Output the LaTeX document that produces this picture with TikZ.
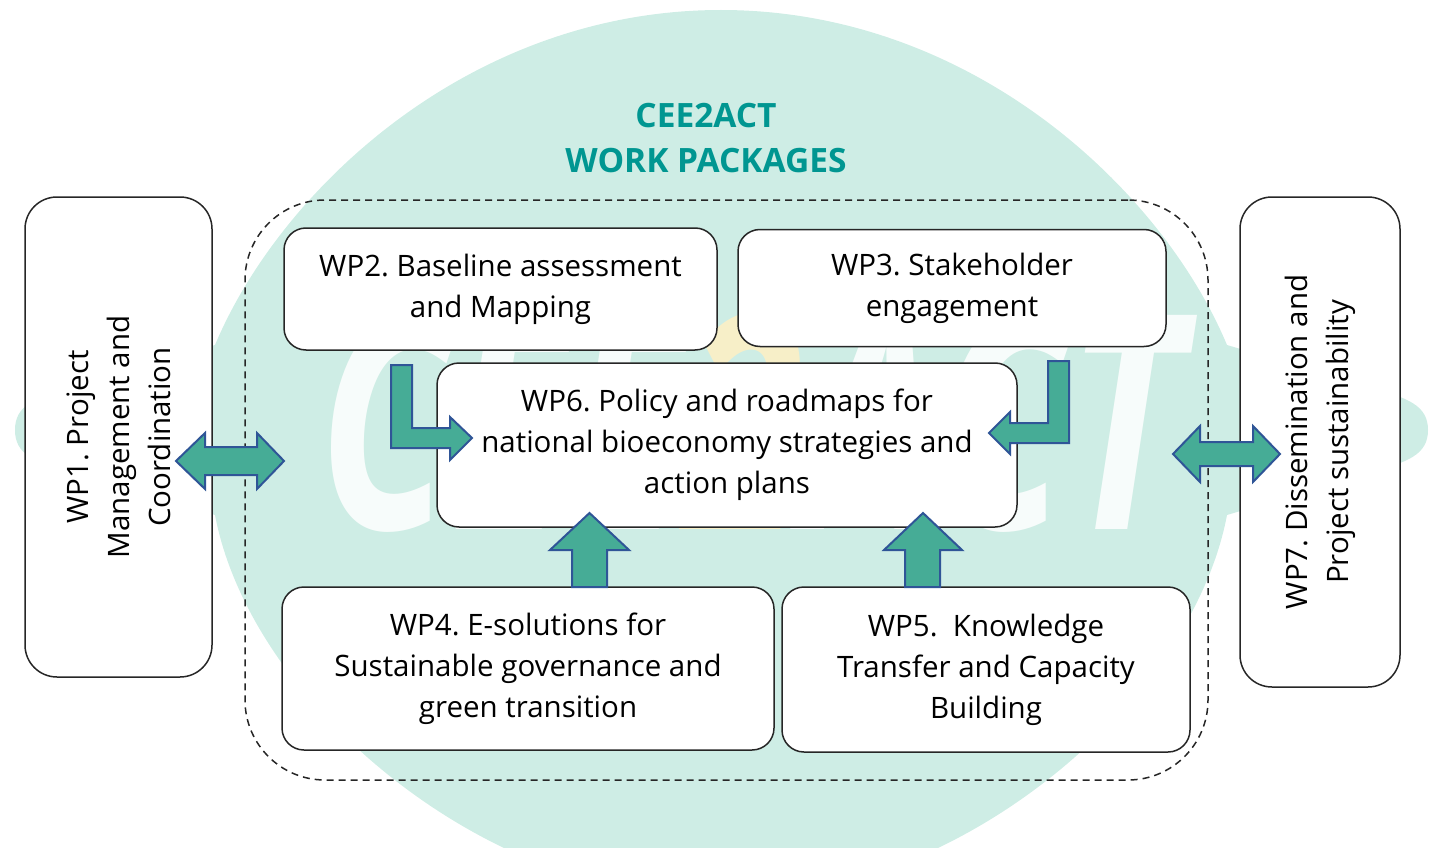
\documentclass[tikz,border=0pt]{standalone}
\usepackage{fontspec}
\setmainfont{Open Sans}
\setsansfont{Open Sans}
\usetikzlibrary{positioning}
\definecolor{mintbg}{RGB}{206,237,229}
\definecolor{titleteal}{RGB}{0,150,145}
\definecolor{arrowgreen}{RGB}{70,172,150}
\definecolor{arrowblue}{RGB}{47,85,151}
\definecolor{logoyellow}{RGB}{255,240,195}
\frenchspacing

\begin{document}
\begin{tikzpicture}[
        x=1pt, y=-1pt,
        font=\sffamily\fontsize{29.5}{41}\selectfont,
        wpbox/.style={rectangle, rounded corners=22pt, draw=black!85, line width=1.5pt, fill=white, align=center, inner sep=0pt},
        sidebox/.style={wpbox, rounded corners=32pt, rotate=90},
        fatarrow/.style={fill=arrowgreen, draw=arrowblue, line width=2pt, line join=miter},
    ]
    \useasboundingbox (0,0) rectangle (1430,848);
    \fill[mintbg] (15,430) .. controls (15,405) and (35,398) .. (70,388) -- (215,345)
        .. controls (280,190) and (470,10) .. (721,10)
        .. controls (972,10) and (1162,190) .. (1227,345) -- (1372,388)
        .. controls (1407,398) and (1428,405) .. (1428,430)
        .. controls (1428,455) and (1407,462) .. (1372,472) -- (1227,515)
        .. controls (1192,700) and (962,900) .. (721,900)
        .. controls (480,900) and (250,700) .. (215,515) -- (70,472)
        .. controls (35,462) and (15,455) .. (15,430) -- cycle;
    \node[text=white, opacity=0.85, inner sep=0pt] (logo) at (750,422)
        {\bfseries\itshape\fontsize{300}{300}\selectfont\scalebox{0.72}[1]{CEE\textcolor{logoyellow}{2}ACT}};
    \node[font=\sffamily\bfseries\fontsize{33.5}{45}\selectfont, text=titleteal, align=center] (title) at (706,138) {CEE2ACT\\WORK PACKAGES};
    \node[draw=black!85, line width=1.5pt, dash pattern=on 7pt off 5pt, rounded corners=80pt, minimum width=963pt, minimum height=580pt, inner sep=0pt] (frame) at (726.5,490) {};

    \node[sidebox, minimum width=480pt, minimum height=187pt] (wp1) at (118.5,437) {WP1. Project\\Management and\\Coordination};
    \node[sidebox, minimum width=490pt, minimum height=160pt] (wp7) at (1320,442) {WP7. Dissemination and\\Project sustainability};

    \node[wpbox, minimum width=433pt, minimum height=122pt] (wp2) at (500.5,289) {WP2. Baseline assessment\\and Mapping};
    \node[wpbox, minimum width=428pt, minimum height=117pt] (wp3) at (952,288) {WP3. Stakeholder\\engagement};
    \node[wpbox, minimum width=580pt, minimum height=164pt] (wp6) at (727,445) {WP6. Policy and roadmaps for\\national bioeconomy strategies and\\action plans};
    \node[wpbox, minimum width=492pt, minimum height=163pt] (wp4) at (528,668.5) {WP4. E-solutions for\\Sustainable governance and\\green transition};
    \node[wpbox, minimum width=408pt, minimum height=165pt] (wp5) at (986,669.5) {WP5.\ \ Knowledge\\Transfer and Capacity\\Building};

    \draw[fatarrow] (176,461) -- (205,433) -- (205,447) -- (257,447) -- (257,433) -- (284,461)
        -- (257,489) -- (257,475) -- (205,475) -- (205,489) -- cycle;
    \draw[fatarrow] (1173,454) -- (1200,426) -- (1200,442) -- (1253,442) -- (1253,426) -- (1280,454)
        -- (1253,482) -- (1253,466) -- (1200,466) -- (1200,482) -- cycle;
    \draw[fatarrow] (391,365) -- (412,365) -- (412,428) -- (450,428) -- (450,417) -- (472,438)
        -- (450,460) -- (450,448) -- (391,448) -- cycle;
    \draw[fatarrow] (1069,361) -- (1048,361) -- (1048,423) -- (1010,423) -- (1010,412) -- (989,433)
        -- (1010,454) -- (1010,443) -- (1069,443) -- cycle;
    \draw[fatarrow] (572,587) -- (572,550) -- (550,550) -- (589.5,513) -- (629,550) -- (607,550) -- (607,587) -- cycle;
    \draw[fatarrow] (905,587) -- (905,550) -- (884,550) -- (923,513) -- (962,550) -- (940,550) -- (940,587) -- cycle;
\end{tikzpicture}
\end{document}
